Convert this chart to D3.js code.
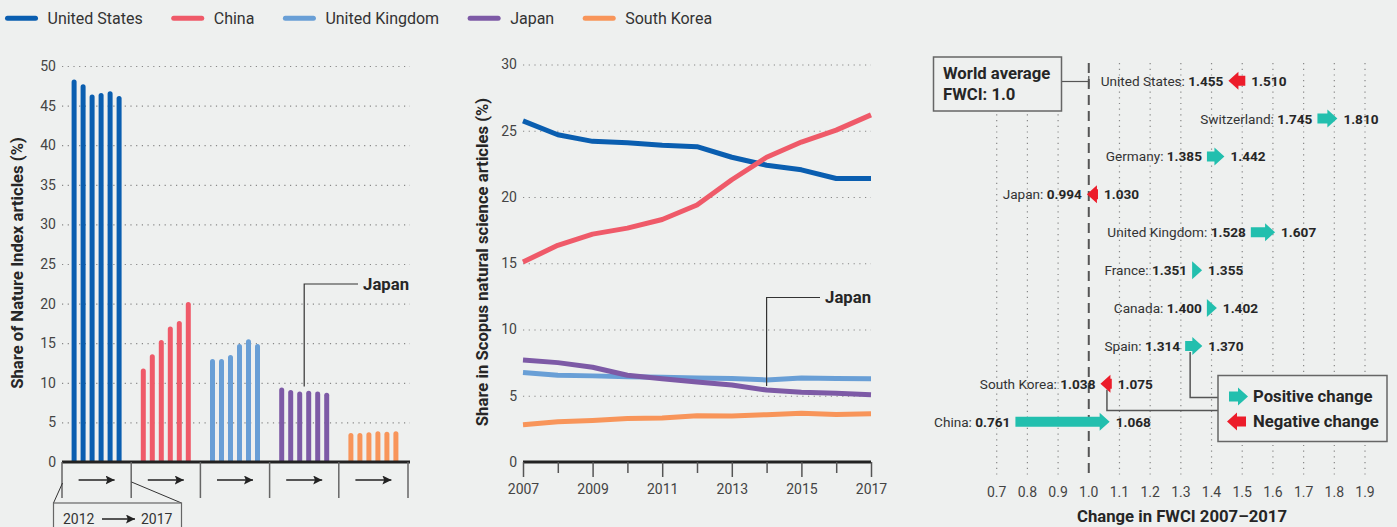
<!DOCTYPE html>
<html>
<head>
<meta charset="utf-8">
<script src="https://cdn.jsdelivr.net/npm/d3@7"></script>
<style>
  body { margin: 0; background: #eef0ef; }
  svg { display: block; }
</style>
</head>
<body>
<svg id="graph"></svg>
<script>
// ---- data ----
var countries = ["United States", "China", "United Kingdom", "Japan", "South Korea"];
var colors = ["#0a5eb0", "#ef5a69", "#699fd6", "#7d5aa6", "#f8955a"];

// Nature Index share, 2012 -> 2017
var natureYears = [2012, 2013, 2014, 2015, 2016, 2017];
var natureUS = [48.3, 47.7, 46.4, 46.6, 46.8, 46.2];
var natureChina = [11.8, 13.6, 15.4, 17.1, 17.8, 20.2];
var natureUK = [13.0, 13.0, 13.5, 14.9, 15.5, 14.9];
var natureJapan = [9.4, 9.1, 8.9, 9.0, 8.9, 8.75];
var natureKorea = [3.66, 3.66, 3.75, 3.88, 3.83, 3.88];

// Scopus natural science share, 2007 -> 2017
var scopusYears = [2007, 2008, 2009, 2010, 2011, 2012, 2013, 2014, 2015, 2016, 2017];
var scopusUS = [25.75, 24.7, 24.2, 24.1, 23.9, 23.8, 23.0, 22.4, 22.05, 21.4, 21.4];
var scopusChina = [15.1, 16.35, 17.2, 17.65, 18.3, 19.4, 21.3, 23.0, 24.15, 25.05, 26.2];
var scopusUK = [6.76, 6.54, 6.5, 6.44, 6.39, 6.34, 6.31, 6.19, 6.34, 6.31, 6.29];
var scopusJapan = [7.7, 7.5, 7.15, 6.55, 6.29, 6.04, 5.81, 5.43, 5.26, 5.18, 5.08];
var scopusKorea = [2.82, 3.04, 3.14, 3.29, 3.32, 3.49, 3.47, 3.57, 3.67, 3.59, 3.64];

// FWCI 2007 -> 2017
var fwciCountries = ["United States", "Switzerland", "Germany", "Japan", "United Kingdom",
                     "France", "Canada", "Spain", "South Korea", "China"];
var fwci2007 = [1.510, 1.745, 1.385, 1.030, 1.528, 1.351, 1.400, 1.314, 1.075, 0.761];
var fwci2017 = [1.455, 1.810, 1.442, 0.994, 1.607, 1.355, 1.402, 1.370, 1.038, 1.068];
var fwciTicks = [0.7, 0.8, 0.9, 1.0, 1.1, 1.2, 1.3, 1.4, 1.5, 1.6, 1.7, 1.8, 1.9];

var FONT = "Roboto, 'Liberation Sans', sans-serif";
var TEAL = "#22bfae", RED = "#ec1c2a", INK = "#262626", GREY = "#444";
var HEAD = 16.7; // bold titles

var w = 1397, h = 527;
var svg = d3.select("#graph").attr("width", w).attr("height", h)
    .style("font-family", FONT);

// ---- legend ----
var legend = svg.append("g");
var lx = 7.5;
countries.forEach(function(c, i){
    legend.append("line")
        .attr("x1", lx).attr("x2", lx + 28).attr("y1", 18.3).attr("y2", 18.3)
        .attr("stroke", colors[i]).attr("stroke-width", 5).attr("stroke-linecap", "round");
    var t = legend.append("text")
        .attr("x", lx + 40).attr("y", 24)
        .attr("font-size", 16).attr("fill", "#333")
        .text(c);
    lx += 40 + t.node().getComputedTextLength() + 31;
});

// ---- left: Nature Index bars ----
var natureSeries = [natureUS, natureChina, natureUK, natureJapan, natureKorea];
var yL = d3.scaleLinear().domain([0, 50]).range([462, 66]);
var gX = d3.scaleBand().domain(countries).range([62, 408]);
var bX = d3.scalePoint().domain(natureYears).range([-22.5, 22.5]);

var axL = svg.append("g").attr("transform", "translate(62,0)")
    .call(d3.axisLeft(yL).ticks(10).tickSize(-348).tickPadding(6));
axL.select(".domain").remove();
axL.selectAll(".tick line").attr("stroke", "#888").attr("stroke-width", 1.2)
    .attr("stroke-dasharray", "1.2 4.5");
axL.selectAll(".tick text").attr("font-size", 14).attr("fill", GREY).style("font-family", FONT);
axL.selectAll(".tick").filter(function(d){ return d === 0; }).select("line").remove();

svg.append("text")
    .attr("transform", "translate(23,263) rotate(-90)")
    .attr("text-anchor", "middle").attr("font-size", HEAD).attr("font-weight", "bold")
    .attr("fill", INK).text("Share of Nature Index articles (%)");

function barPath(x, yt, y0, bw){
    var r = bw / 2;
    return "M" + (x - r) + "," + y0 + "V" + (yt + r) +
        "A" + r + "," + r + " 0 0 1 " + (x + r) + "," + (yt + r) + "V" + y0 + "Z";
}

countries.forEach(function(c, i){
    var cx = gX(c) + gX.bandwidth() / 2;
    svg.append("g").selectAll("path")
        .data(natureSeries[i])
        .join("path")
        .attr("d", function(d, j){ return barPath(cx + bX(natureYears[j]), yL(d), yL(0), 5); })
        .attr("fill", colors[i]);
});

// baseline + group boxes
svg.append("line").attr("x1", 62).attr("x2", 410).attr("y1", yL(0)).attr("y2", yL(0))
    .attr("stroke", "#222").attr("stroke-width", 3);
var defs = svg.append("defs");
defs.append("marker").attr("id", "ah").attr("viewBox", "0 0 10 10")
    .attr("refX", 10).attr("refY", 5).attr("markerWidth", 6).attr("markerHeight", 6)
    .attr("markerUnits", "strokeWidth").attr("orient", "auto")
    .append("path").attr("d", "M0,0L10,5L0,10L2,5Z").attr("fill", "#222");

var edges = countries.map(function(c){ return gX(c); }).concat([gX.range()[1]]);
svg.append("g").selectAll("line").data(edges).join("line")
    .attr("x1", function(d){ return d; }).attr("x2", function(d){ return d; })
    .attr("y1", yL(0)).attr("y2", 498)
    .attr("stroke", "#666").attr("stroke-width", 1.5);
svg.append("g").selectAll("line").data(countries).join("line")
    .attr("x1", function(d){ return gX(d) + gX.bandwidth() / 2 - 18; })
    .attr("x2", function(d){ return gX(d) + gX.bandwidth() / 2 + 18; })
    .attr("y1", 480).attr("y2", 480)
    .attr("stroke", "#222").attr("stroke-width", 1.5).attr("marker-end", "url(#ah)");

// callout box 2012 -> 2017
var cb = svg.append("g");
cb.append("path").attr("d", "M62.5,483L53.5,503M131.5,482L181.5,503")
    .attr("stroke", "#333").attr("stroke-width", 1).attr("fill", "none");
cb.append("rect").attr("x", 53.5).attr("y", 503).attr("width", 128).attr("height", 40)
    .attr("fill", "#eef0ef").attr("stroke", "#666").attr("stroke-width", 1.2);
cb.append("text").attr("x", 63).attr("y", 524).attr("font-size", 14).attr("fill", "#333")
    .text(natureYears[0]);
cb.append("line").attr("x1", 102).attr("x2", 135).attr("y1", 519).attr("y2", 519)
    .attr("stroke", "#222").attr("stroke-width", 1.5).attr("marker-end", "url(#ah)");
cb.append("text").attr("x", 141).attr("y", 524).attr("font-size", 14).attr("fill", "#333")
    .text(natureYears[natureYears.length - 1]);

// Japan annotation (left)
var jx = gX("Japan") + gX.bandwidth() / 2;
svg.append("path")
    .attr("d", "M" + jx + "," + (yL(d3.max(natureJapan)) - 1) + "V284H358")
    .attr("fill", "none").attr("stroke", "#333").attr("stroke-width", 1.2);
svg.append("text").attr("x", 409).attr("y", 289.5).attr("text-anchor", "end")
    .attr("font-size", HEAD).attr("font-weight", "bold").attr("fill", INK).text("Japan");

// ---- middle: Scopus lines ----
var scopusSeries = [scopusUS, scopusChina, scopusUK, scopusJapan, scopusKorea];
var xM = d3.scaleLinear().domain([2007, 2017]).range([523, 871]);
var yM = d3.scaleLinear().domain([0, 30]).range([462, 64.5]);

var axM = svg.append("g").attr("transform", "translate(523,0)")
    .call(d3.axisLeft(yM).ticks(6).tickSize(-348).tickPadding(6));
axM.select(".domain").remove();
axM.selectAll(".tick line").attr("stroke", "#888").attr("stroke-width", 1.2)
    .attr("stroke-dasharray", "1.2 4.5");
axM.selectAll(".tick text").attr("font-size", 14).attr("fill", GREY).style("font-family", FONT);
axM.selectAll(".tick").filter(function(d){ return d === 0; }).select("line").remove();

svg.append("text")
    .attr("transform", "translate(488,262) rotate(-90)")
    .attr("text-anchor", "middle").attr("font-size", HEAD).attr("font-weight", "bold")
    .attr("fill", INK).text("Share in Scopus natural science articles (%)");

var line = d3.line()
    .x(function(d, i){ return xM(scopusYears[i]); })
    .y(function(d){ return yM(d); });

// draw order: Korea, UK, Japan, US, China
[4, 2, 3, 0, 1].forEach(function(i){
    svg.append("path").attr("d", line(scopusSeries[i]))
        .attr("fill", "none").attr("stroke", colors[i]).attr("stroke-width", 5)
        .attr("stroke-linejoin", "round");
});

var axXM = svg.append("g").attr("transform", "translate(0," + yM(0) + ")")
    .call(d3.axisBottom(xM).tickValues(scopusYears).tickSize(11).tickPadding(8)
        .tickFormat(function(d){ return (d - 2007) % 2 === 0 ? d : ""; }));
axXM.select(".domain").attr("stroke", "#222").attr("stroke-width", 3)
    .attr("d", "M523,0H871");
axXM.selectAll(".tick line").attr("stroke", "#555").attr("stroke-width", 1.5)
    .attr("y2", function(d){ return (d - 2007) % 2 === 0 ? 15 : 11; });
axXM.selectAll(".tick text").attr("font-size", 14).attr("fill", GREY).style("font-family", FONT)
    .attr("y", 22);

// Japan annotation (middle)
svg.append("path")
    .attr("d", "M" + xM(2014) + "," + (yM(scopusJapan[7]) - 4) + "V297.5H820")
    .attr("fill", "none").attr("stroke", "#333").attr("stroke-width", 1.2);
svg.append("text").attr("x", 871).attr("y", 302.5).attr("text-anchor", "end")
    .attr("font-size", HEAD).attr("font-weight", "bold").attr("fill", INK).text("Japan");

// ---- right: FWCI arrows ----
var xR = d3.scaleLinear().domain([0.7, 1.9]).range([996.7, 1365]);
var yR = d3.scalePoint().domain(fwciCountries).range([80.7, 421.7]);

svg.append("g").selectAll("line").data(fwciTicks.filter(function(d){ return d !== 1.0; }))
    .join("line")
    .attr("x1", function(d){ return xR(d); }).attr("x2", function(d){ return xR(d); })
    .attr("y1", 63).attr("y2", 478)
    .attr("stroke", "#888").attr("stroke-width", 1.2).attr("stroke-dasharray", "1.2 4.5");
svg.append("line").attr("x1", xR(1)).attr("x2", xR(1)).attr("y1", 63).attr("y2", 478)
    .attr("stroke", "#555").attr("stroke-width", 2).attr("stroke-dasharray", "10 6");

svg.append("g").selectAll("text").data(fwciTicks).join("text")
    .attr("x", function(d){ return xR(d); }).attr("y", 497)
    .attr("text-anchor", "middle").attr("font-size", 14).attr("fill", GREY)
    .text(d3.format(".1f"));
svg.append("text").attr("x", 1182).attr("y", 522).attr("text-anchor", "middle")
    .attr("font-size", HEAD).attr("font-weight", "bold").attr("fill", INK)
    .text("Change in FWCI 2007–2017");

// world average box
svg.append("line").attr("x1", 1062).attr("x2", xR(1)).attr("y1", 81.5).attr("y2", 81.5)
    .attr("stroke", "#555").attr("stroke-width", 1.2);
svg.append("line").attr("x1", xR(1)).attr("x2", xR(1)).attr("y1", 76).attr("y2", 87)
    .attr("stroke", "#555").attr("stroke-width", 1.2);
svg.append("rect").attr("x", 933.5).attr("y", 57).attr("width", 128).attr("height", 54)
    .attr("fill", "#eef0ef").attr("stroke", "#666").attr("stroke-width", 1.5);
svg.append("text").attr("x", 943).attr("y", 79).attr("font-size", HEAD).attr("font-weight", "bold")
    .attr("fill", INK).text("World average");
svg.append("text").attr("x", 943).attr("y", 100).attr("font-size", HEAD).attr("font-weight", "bold")
    .attr("fill", INK).text("FWCI: 1.0");

// arrow shape from px a to px b at height cy
function arrowPath(a, b, cy, sh, hh, hl){
    var dir = b >= a ? 1 : -1;
    var len = Math.abs(b - a);
    if (len < hl) {
        var m = (a + b) / 2;
        a = m - dir * hl / 2;
        b = m + dir * hl / 2;
        return "M" + a + "," + (cy - hh / 2) + "L" + b + "," + cy + "L" + a + "," + (cy + hh / 2) + "Z";
    }
    var n = b - dir * hl;
    return "M" + a + "," + (cy - sh / 2) + "H" + n + "V" + (cy - hh / 2) + "L" + b + "," + cy +
        "L" + n + "," + (cy + hh / 2) + "V" + (cy + sh / 2) + "H" + a + "Z";
}

// legend connectors (drawn under arrows)
var spainI = fwciCountries.indexOf("Spain"), koreaI = fwciCountries.indexOf("South Korea");
svg.append("path")
    .attr("d", "M" + (xR(fwci2007[spainI]) + 5) + "," + (yR("Spain") + 6) + "V397.5H1218")
    .attr("fill", "none").attr("stroke", "#555").attr("stroke-width", 1.5);
svg.append("path")
    .attr("d", "M" + (xR(fwci2017[koreaI]) + 6.5) + "," + (yR("South Korea") + 6) + "V410.5H1218")
    .attr("fill", "none").attr("stroke", "#555").attr("stroke-width", 1.5);

fwciCountries.forEach(function(c, i){
    var a = xR(fwci2007[i]), b = xR(fwci2017[i]), cy = yR(c);
    var up = fwci2017[i] >= fwci2007[i];
    svg.append("path").attr("d", arrowPath(a, b, cy, 10, 18, 10))
        .attr("fill", up ? TEAL : RED);
    var lo = Math.min(a, b), hi = Math.max(a, b);
    if (hi - lo < 10) { var m = (a + b) / 2; lo = m - 5; hi = m + 5; }
    var lt = svg.append("text").attr("x", lo - 5).attr("y", cy + 5)
        .attr("text-anchor", "end").attr("font-size", 13.6).attr("fill", "#333");
    lt.append("tspan").text(c + ": ");
    lt.append("tspan").attr("font-weight", "bold").attr("fill", INK)
        .text(d3.format(".3f")(Math.min(fwci2007[i], fwci2017[i])));
    svg.append("text").attr("x", hi + 6).attr("y", cy + 5)
        .attr("font-size", 13.6).attr("font-weight", "bold").attr("fill", INK)
        .text(d3.format(".3f")(Math.max(fwci2007[i], fwci2017[i])));
});

// change legend box
svg.append("rect").attr("x", 1218).attr("y", 375.5).attr("width", 169).attr("height", 66)
    .attr("fill", "#eef0ef").attr("stroke", "#666").attr("stroke-width", 1.5);
svg.append("path").attr("d", arrowPath(1229, 1248, 396.5, 10, 18, 10)).attr("fill", TEAL);
svg.append("path").attr("d", arrowPath(1246, 1227, 421.5, 10, 18, 10)).attr("fill", RED);
svg.append("text").attr("x", 1253).attr("y", 402).attr("font-size", HEAD).attr("font-weight", "bold")
    .attr("fill", INK).text("Positive change");
svg.append("text").attr("x", 1253).attr("y", 427).attr("font-size", HEAD).attr("font-weight", "bold")
    .attr("fill", INK).text("Negative change");
</script>
</body>
</html>
